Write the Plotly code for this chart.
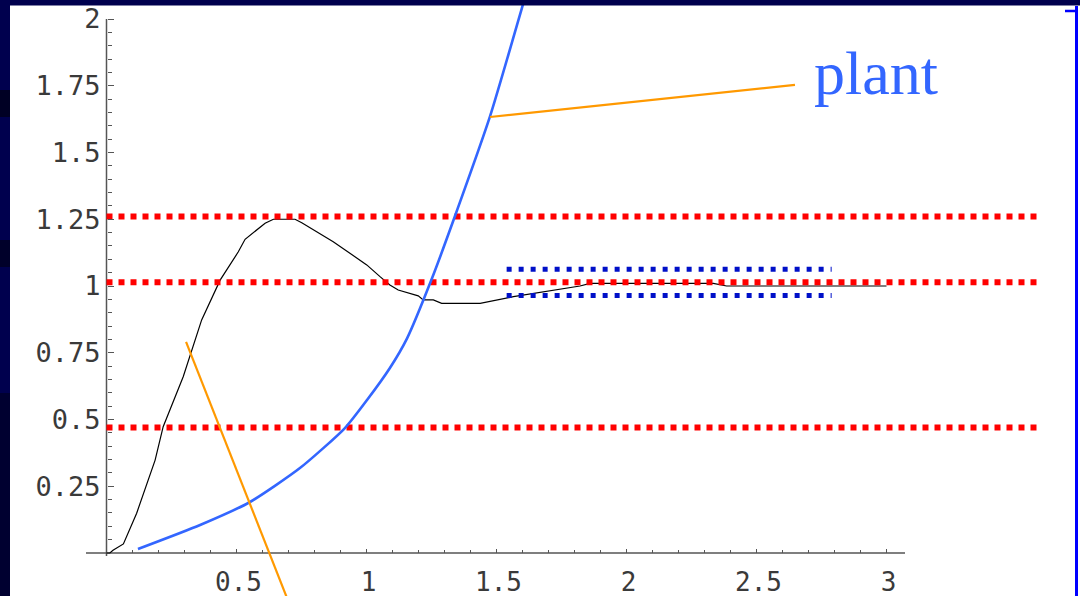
import numpy as np
import plotly.graph_objects as go

# Step response of the closed loop
resp_t = [0.0, 0.013, 0.025, 0.065, 0.116, 0.187, 0.218, 0.295, 0.366, 0.437, 0.507,
          0.533, 0.610, 0.642, 0.725, 0.751, 0.872, 1.001, 1.052, 1.090, 1.122, 1.199,
          1.218, 1.257, 1.289, 1.437, 1.565, 1.821, 1.860, 2.334, 2.385, 3.0]
resp_y = [0.0, 0.0, 0.010, 0.034, 0.149, 0.348, 0.473, 0.660, 0.873, 1.022, 1.128,
          1.175, 1.235, 1.250, 1.250, 1.237, 1.166, 1.079, 1.035, 1.004, 0.985, 0.963,
          0.948, 0.948, 0.935, 0.935, 0.960, 1.000, 1.010, 1.010, 1.000, 1.000]

# Open-loop plant response
plant_t = [0.121, 0.360, 0.552, 0.744, 0.917, 1.002, 1.090, 1.156, 1.252, 1.340, 1.475, 1.598, 1.667]
plant_y = [0.015, 0.105, 0.191, 0.318, 0.468, 0.573, 0.693, 0.804, 1.029, 1.261, 1.635, 2.042, 2.277]

# Reference levels (red) and settling band (blue)
red_levels = [1.26, 1.014, 0.47]
red_span = [0.0, 3.58]
band_levels = [1.0625, 0.964]
band_span = [1.539, 2.789]

# Pointer lines
pointer_plant_x = [1.475, 2.648]
pointer_plant_y = [1.633, 1.753]
pointer_low_x = [0.306, 0.707]
pointer_low_y = [0.791, -0.200]

x_major = [0.5, 1.0, 1.5, 2.0, 2.5, 3.0]
x_labels = ["0.5", "1", "1.5", "2", "2.5", "3"]
y_major = [0.25, 0.5, 0.75, 1.0, 1.25, 1.5, 1.75, 2.0]
y_labels = ["0.25", "0.5", "0.75", "1", "1.25", "1.5", "1.75", "2"]

x_minor = [round(v, 2) for v in np.arange(0.1, 3.01, 0.1) if abs(v / 0.5 - round(v / 0.5)) > 1e-6]
y_minor = [round(v, 2) for v in np.arange(0.05, 2.001, 0.05) if abs(v / 0.25 - round(v / 0.25)) > 1e-6]

W, H = 1080, 596
X0_PX, X_SCALE = 106.5, 260.0   # pixel of t=0, pixels per unit
Y0_PX, Y_SCALE = 553.0, 267.0   # pixel of y=0, pixels per unit

x_range = [-X0_PX / X_SCALE, (W - X0_PX) / X_SCALE]
y_range = [(Y0_PX - H) / Y_SCALE, Y0_PX / Y_SCALE]

fig = go.Figure()

fig.add_trace(go.Scatter(x=resp_t, y=resp_y, mode="lines",
                         line=dict(color="black", width=1.2), hoverinfo="skip"))
for lv in red_levels:
    fig.add_trace(go.Scatter(x=red_span, y=[lv, lv], mode="lines",
                             line=dict(color="#FF0000", width=6, dash="6px,6px"), hoverinfo="skip"))
for lv in band_levels:
    fig.add_trace(go.Scatter(x=band_span, y=[lv, lv], mode="lines",
                             line=dict(color="#0010C8", width=5, dash="5px,7px"), hoverinfo="skip"))
fig.add_trace(go.Scatter(x=plant_t, y=plant_y, mode="lines",
                         line=dict(color="#3366FF", width=2.6, shape="spline", smoothing=0.6),
                         hoverinfo="skip"))
fig.add_trace(go.Scatter(x=pointer_plant_x, y=pointer_plant_y, mode="lines",
                         line=dict(color="#FF9900", width=2.2), hoverinfo="skip"))
fig.add_trace(go.Scatter(x=pointer_low_x, y=pointer_low_y, mode="lines",
                         line=dict(color="#FF9900", width=2.2), hoverinfo="skip"))

tick_font = dict(family="DejaVu Sans Mono", size=27, color="#3a3a3a")
x_tick_font = dict(family="DejaVu Sans Mono", size=26, color="#3a3a3a")

fig.update_layout(
    width=W, height=H,
    margin=dict(l=0, r=0, t=0, b=0, autoexpand=False),
    paper_bgcolor="white", plot_bgcolor="white",
    showlegend=False,
    xaxis=dict(
        domain=[0, 1], range=x_range, anchor="free", position=(H - Y0_PX) / H,
        automargin=False,
        showgrid=False, zeroline=False, showline=False,
        tickmode="array", tickvals=x_major, ticktext=x_labels,
        ticks="inside", ticklen=4, tickwidth=1, tickcolor="#555555",
        minor=dict(tickmode="array", tickvals=x_minor, ticks="inside", ticklen=3,
                   tickwidth=1, tickcolor="#555555", showgrid=False),
        tickfont=x_tick_font, ticklabelstandoff=11, ticklabelshift=2,
    ),
    yaxis=dict(
        domain=[0, 1], range=y_range, anchor="free", position=X0_PX / W,
        automargin=False,
        showgrid=False, zeroline=False, showline=False,
        tickmode="array", tickvals=y_major, ticktext=y_labels,
        ticks="inside", ticklen=6, tickwidth=1, tickcolor="#555555",
        minor=dict(tickmode="array", tickvals=y_minor, ticks="inside", ticklen=4,
                   tickwidth=1, tickcolor="#555555", showgrid=False),
        tickfont=tick_font, ticklabelstandoff=6,
    ),
)

# Axis lines
fig.add_shape(type="line", xref="x", yref="y", x0=(86 - X0_PX) / X_SCALE,
              x1=(905 - X0_PX) / X_SCALE, y0=0, y1=0,
              line=dict(color="#555555", width=1.5), layer="below")
fig.add_shape(type="line", xref="x", yref="y", x0=0, x1=0, y0=(Y0_PX - 556) / Y_SCALE, y1=2.0,
              line=dict(color="#555555", width=1.5), layer="below")

fig.add_annotation(x=(876 - X0_PX) / X_SCALE, y=(Y0_PX - 73) / Y_SCALE, xref="x", yref="y",
                   text="plant", showarrow=False, xanchor="center", yanchor="middle",
                   font=dict(family="Liberation Serif", size=62, color="#3366FF"))

# Slide frame
navy = "#00004E"
fig.add_shape(type="rect", xref="paper", yref="paper", x0=0, x1=1, y0=(H - 5.5) / H, y1=1,
              fillcolor=navy, line_width=0, layer="above")
fig.add_shape(type="rect", xref="paper", yref="paper", x0=0, x1=10 / W, y0=0, y1=1,
              fillcolor=navy, line_width=0, layer="above")
for top, bot, col in [(90, 117, "#000024"), (240, 267, "#00002A"), (393, 596, "#000030")]:
    fig.add_shape(type="rect", xref="paper", yref="paper", x0=0, x1=10 / W,
                  y0=(H - bot) / H, y1=(H - top) / H, fillcolor=col, line_width=0, layer="above")
fig.add_shape(type="line", xref="paper", yref="paper", x0=1076.5 / W, x1=1076.5 / W,
              y0=0, y1=(H - 6) / H, line=dict(color="#0000FF", width=3), layer="above")
fig.add_shape(type="line", xref="paper", yref="paper", x0=1065 / W, x1=1077 / W,
              y0=(H - 11) / H, y1=(H - 11) / H, line=dict(color="#0000FF", width=2.5), layer="above")

fig.write_html("out.html")
